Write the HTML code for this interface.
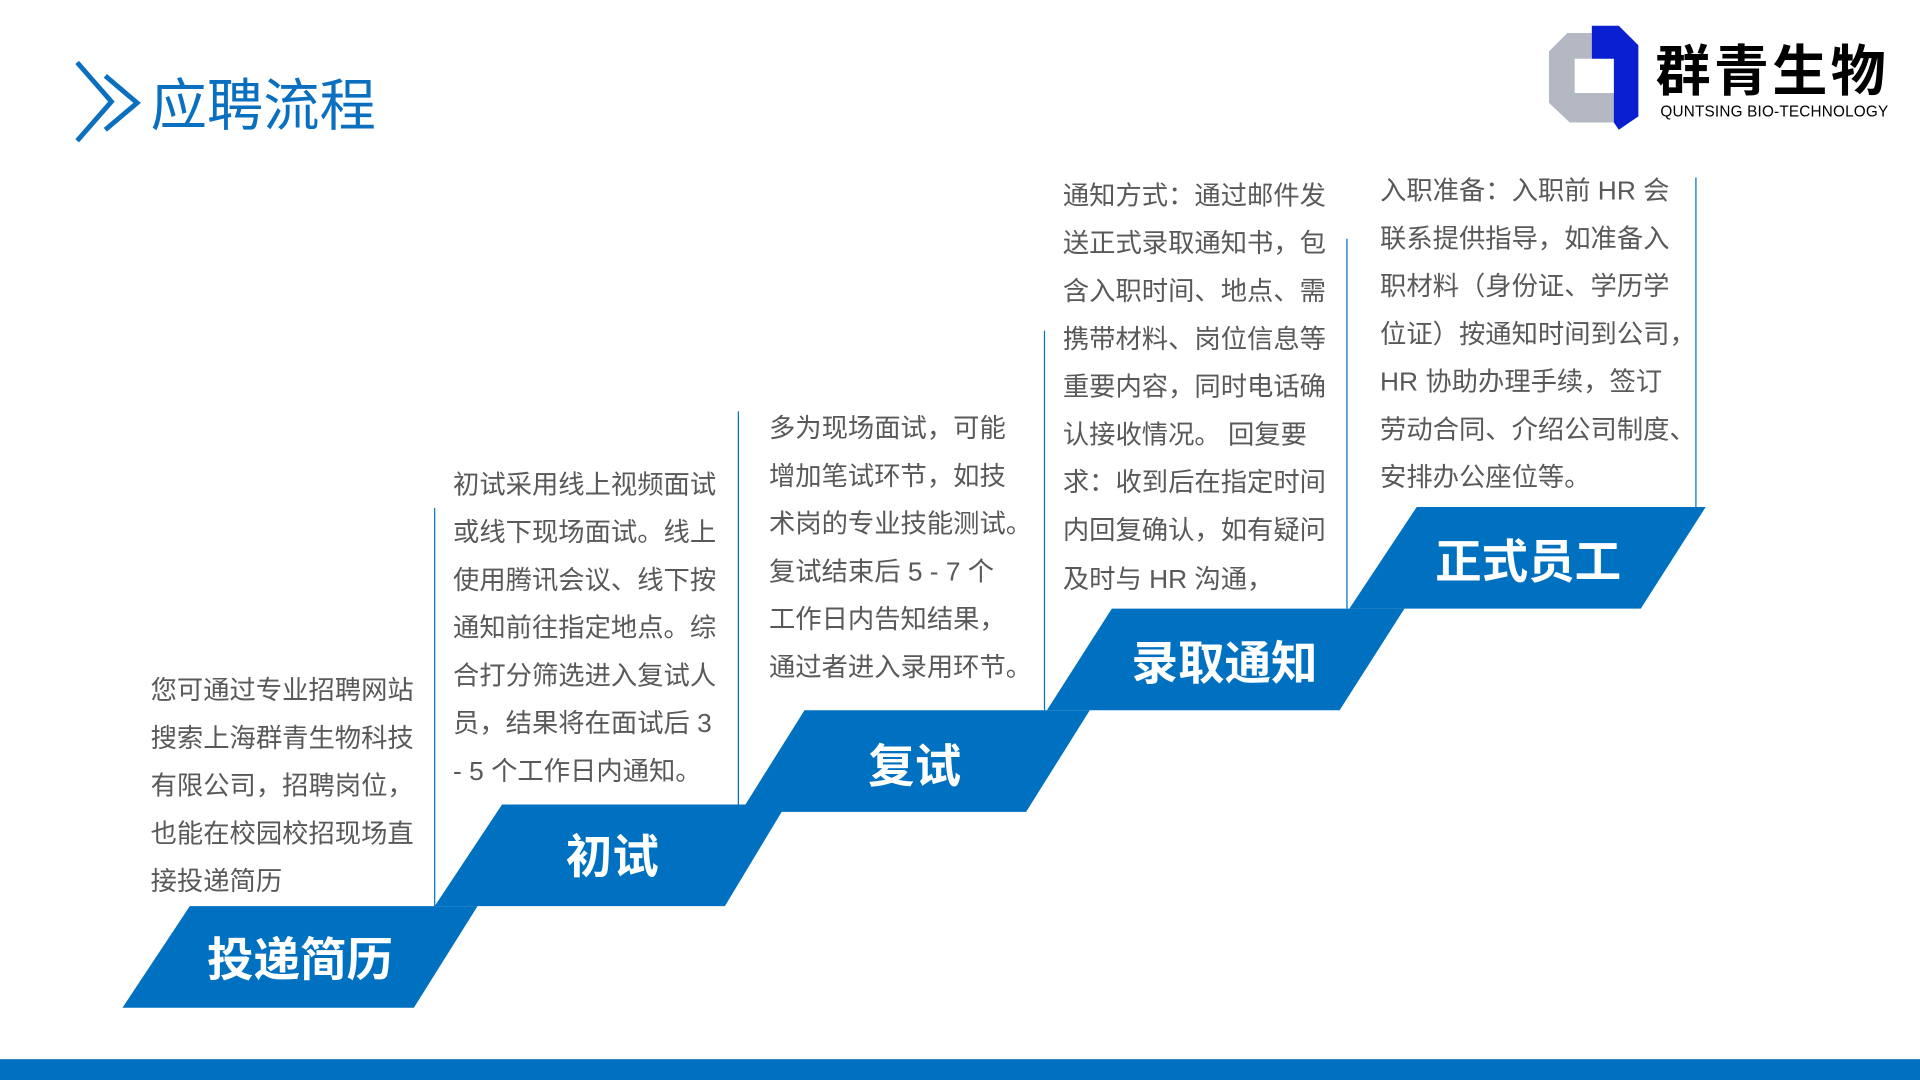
<!DOCTYPE html>
<html><head><meta charset="utf-8"><style>html,body{margin:0;padding:0;background:#fff}svg{display:block}</style></head>
<body>
<svg width="1920" height="1080" viewBox="0 0 1568 882" xmlns="http://www.w3.org/2000/svg" font-family="'Liberation Sans','Noto Sans CJK SC',sans-serif">
<rect width="1568" height="882" fill="#fff"/>
<!-- title -->
<polyline points="63,51 91,83 63,115" fill="none" stroke="#0b6fc0" stroke-width="4"/>
<polyline points="86,62 112,84 86,106" fill="none" stroke="#0b6fc0" stroke-width="4"/>
<text x="123" y="102" font-size="46" fill="#0b6fc0">应聘流程</text>
<!-- logo -->
<polygon points="1280,27 1300,27 1300,48 1286,48 1286,76 1320,76 1320,100 1282,100 1265,84 1265,42" fill="#b4b8c2"/>
<polygon points="1300,21 1322,21 1338,37 1338,95 1322,106 1318,100 1318,48 1300,48" fill="#0a1fd0"/>
<text x="1352" y="74" font-size="45" font-weight="bold" fill="#000" textLength="188">群青生物</text>
<text x="1356" y="95" font-size="12.5" fill="#000" textLength="186">QUNTSING BIO-TECHNOLOGY</text>
<!-- steps -->
<g fill="#0070c0">
<polygon points="100,823 155,740 390,740 338,823"/>
<polygon points="355,740 410,657 642,657 592,740"/>
<polygon points="605,663 657,580 890,580 838,663"/>
<polygon points="855,580 908,497 1147,497 1094,580"/>
<polygon points="1102,497 1157,414 1393,414 1340,497"/>
</g>
<rect x="0" y="865" width="1568" height="17" fill="#0070c0"/>
<g fill="#fff" font-size="38" font-weight="bold" text-anchor="middle">
<text x="245" y="797">投递简历</text>
<text x="500" y="713">初试</text>
<text x="747" y="639">复试</text>
<text x="1000" y="555">录取通知</text>
<text x="1248" y="472">正式员工</text>
</g>
<!-- vertical lines -->
<g stroke="#0070c0" stroke-width="1">
<line x1="355" y1="415" x2="355" y2="740"/>
<line x1="603" y1="336" x2="603" y2="657"/>
<line x1="853" y1="270" x2="853" y2="580"/>
<line x1="1100" y1="195" x2="1100" y2="497"/>
<line x1="1385" y1="145" x2="1385" y2="414"/>
</g>
<g fill="#595959" font-size="21.5">
<text x="123" y="571">您可通过专业招聘网站</text>
<text x="123" y="610">搜索上海群青生物科技</text>
<text x="123" y="649">有限公司，招聘岗位，</text>
<text x="123" y="688">也能在校园校招现场直</text>
<text x="123" y="727">接投递简历</text>

<text x="370" y="403">初试采用线上视频面试</text>
<text x="370" y="442">或线下现场面试。线上</text>
<text x="370" y="481">使用腾讯会议、线下按</text>
<text x="370" y="520">通知前往指定地点。综</text>
<text x="370" y="559">合打分筛选进入复试人</text>
<text x="370" y="598">员，结果将在面试后 3</text>
<text x="370" y="637">- 5 个工作日内通知。</text>

<text x="628" y="357">多为现场面试，可能</text>
<text x="628" y="396">增加笔试环节，如技</text>
<text x="628" y="435">术岗的专业技能测试。</text>
<text x="628" y="474">复试结束后 5 - 7 个</text>
<text x="628" y="513">工作日内告知结果，</text>
<text x="628" y="552">通过者进入录用环节。</text>

<text x="868" y="167">通知方式：通过邮件发</text>
<text x="868" y="206">送正式录取通知书，包</text>
<text x="868" y="245">含入职时间、地点、需</text>
<text x="868" y="284">携带材料、岗位信息等</text>
<text x="868" y="323">重要内容，同时电话确</text>
<text x="868" y="362">认接收情况。 回复要</text>
<text x="868" y="401">求：收到后在指定时间</text>
<text x="868" y="440">内回复确认，如有疑问</text>
<text x="868" y="480">及时与 HR 沟通，</text>

<text x="1127" y="163">入职准备：入职前 HR 会</text>
<text x="1127" y="202">联系提供指导，如准备入</text>
<text x="1127" y="241">职材料（身份证、学历学</text>
<text x="1127" y="280">位证）按通知时间到公司，</text>
<text x="1127" y="319">HR 协助办理手续，签订</text>
<text x="1127" y="358">劳动合同、介绍公司制度、</text>
<text x="1127" y="397">安排办公座位等。</text>
</g>
</svg>
</body></html>
